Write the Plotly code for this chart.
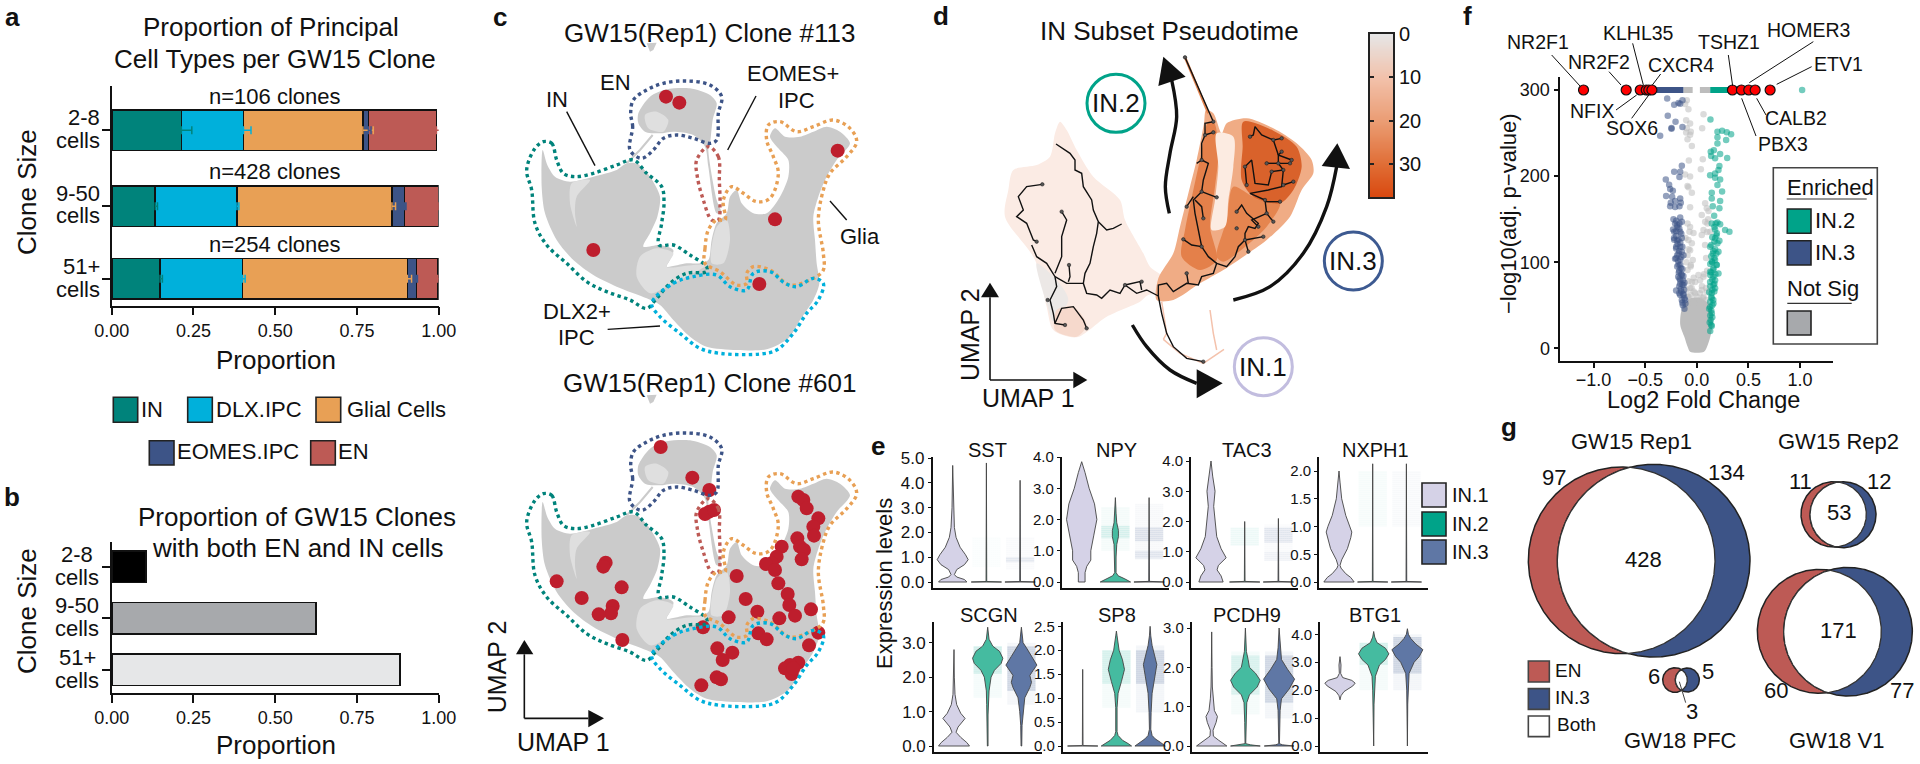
import numpy as np
import plotly.graph_objects as go

W, H = 1920, 764
FONT = "Liberation Sans"
INK = "#111111"

# ---------------- panel a / b data
clone_sizes = ["2-8", "9-50", "51+"]
row_pos_a = [0, 1.025, 2]
cell_types = ["IN", "DLX.IPC", "Glial Cells", "EOMES.IPC", "EN"]
type_colors = ["#00837B", "#00B0DB", "#E8A055", "#3D5487", "#BD5A55"]
prop_IN = [0.213, 0.133, 0.148]
prop_DLX = [0.190, 0.250, 0.252]
prop_GLIA = [0.365, 0.474, 0.504]
prop_EOMES = [0.017, 0.039, 0.028]
prop_EN = [0.208, 0.103, 0.065]
err_IN = [0.032, 0.007, 0.007]
err_DLX = [0.023, 0.006, 0.008]
err_GLIA = [0.032, 0.011, 0.013]
err_EOMES = [0.008, 0.004, 0.003]
err_EN = [0.029, 0.007, 0.007]
clone_counts = ["n=106 clones", "n=428 clones", "n=254 clones"]
both_prop = [0.105, 0.624, 0.882]
both_colors = ["#000000", "#A7A9AC", "#E6E7E8"]
prop_ticks = [0, 0.25, 0.5, 0.75, 1.0]
prop_ticktext = ["0.00", "0.25", "0.50", "0.75", "1.00"]

# ---------------- panel c data (UMAP coordinates)
blob_main = [(248,450),(262,495),(285,530),(330,545),(400,530),(470,510),(500,490),(530,490),(570,530),(600,590),(592,650),(570,700),(550,740),(600,735),(640,750),(630,780),(620,800),(680,790),(720,790),(745,780),(755,720),(770,670),(800,640),(810,590),(830,570),(845,610),(880,640),(920,640),(960,590),(985,530),(985,480),(955,445),(930,410),(945,385),(975,410),(1020,410),(1060,395),(1100,380),(1140,395),(1170,430),(1130,480),(1100,530),(1075,590),(1060,650),(1065,720),(1070,790),(1078,850),(1060,900),(1020,960),(985,1015),(920,1048),(830,1050),(740,1040),(690,1010),(640,960),(600,915),(560,895),(470,860),(400,825),(340,780),(290,720),(255,640),(245,560)]
blob_en = [(535,340),(570,290),(620,268),(690,265),(750,285),(770,310),(758,360),(750,430),(745,445),(770,600),(785,640),(770,640),(745,500),(735,440),(700,405),(640,395),(600,400),(555,395),(535,370)]
blob_top = [(560,130),(590,128),(580,150),(570,155)]
blob_streak = [(578,405),(540,450),(500,490)]
speckle_a = [(540,770),(590,745),(640,760),(620,800),(700,795),(740,795),(680,830),(620,860),(570,880),(530,830)]
speckle_b = [(555,345),(590,335),(625,360),(610,395),(565,385)]
speckle_c = [(770,680),(800,660),(810,720),(790,790),(755,790)]
speckle_d = [(335,550),(390,540),(350,590),(345,640),(350,680),(330,610)]
outline_IN = [(250,425),(275,430),(290,480),(310,520),(345,530),(400,520),(470,495),(520,480),(560,520),(605,560),(612,610),(605,670),(597,735),(640,735),(690,765),(740,800),(740,815),(680,820),(630,850),(590,895),(560,925),(510,900),(440,875),(380,845),(320,790),(260,735),(225,670),(215,570),(200,510),(225,445),(250,425)]
outline_EN = [(510,450),(518,380),(512,340),(520,300),(560,270),(610,250),(680,243),(750,255),(785,290),(775,340),(770,420),(750,430),(700,415),(650,405),(610,415),(580,450),(545,475),(510,450)]
outline_EOMES = [(745,440),(775,470),(778,540),(780,620),(775,660),(755,660),(730,600),(712,530),(710,480),(745,440)]
outline_GLIA = [(735,790),(735,745),(745,690),(770,660),(795,660),(790,600),(815,560),(850,580),(890,605),(930,595),(955,520),(940,470),(920,420),(925,375),(960,365),(1010,395),(1060,380),(1120,360),(1170,385),(1190,425),(1160,470),(1110,520),(1090,570),(1075,660),(1090,760),(1090,810),(1060,835),(990,855),(930,810),(880,800),(860,820),(860,850),(830,855),(780,815),(735,790)]
outline_DLX = [(575,910),(640,850),(700,830),(770,825),(810,860),(860,870),(880,820),(930,815),(975,850),(1010,860),(1060,835),(1090,850),(1075,900),(1040,940),(1000,1000),(950,1050),(900,1062),(780,1060),(720,1045),(660,1000),(600,950),(575,910)]
clone_113 = [(618,290),(658,308),(400,750),(945,658),(898,852),(1133,452)]
clone_601 = [(602,285),(697,377),(748,414),(748,479),(735,486),(762,474),(1015,434),(1030,444),(1040,469),(1075,499),(1060,524),(1062,551),(1012,559),(1020,584),(1032,594),(1025,622),(965,584),(950,614),(935,634),(918,636),(945,654),(955,694),(983,726),(988,759),(1005,791),(1053,772),(958,799),(830,672),(857,741),(892,779),(806,796),(437,632),(430,644),(290,688),(485,706),(365,738),(458,762),(453,784),(416,787),(487,864),(729,826),(895,844),(920,862),(1075,842),(1047,880),(772,889),(817,902),(788,924),(770,976),(783,982),(724,1000),(1015,932),(990,939),(975,949),(995,966),(1000,949)]

# ---------------- panel d data
fan = [(540,365),(560,390),(590,450),(640,530),(720,600),(735,660),(790,760),(810,800),(850,830),(880,880),(805,885),(780,905),(680,950),(590,1012),(520,990),(500,920),(465,780),(375,650),(385,570),(400,510),(470,495),(510,470),(525,400)]
fan_grey = [(470,790),(530,840),(565,900),(520,965),(503,920)]
fan_pink = [(530,930),(580,920),(620,975),(590,1010),(525,990)]
right_body = [(835,835),(880,760),(900,680),(930,560),(950,480),(972,370),(978,330),(1000,340),(1025,400),(1040,370),(1100,355),(1180,385),(1250,430),(1295,480),(1300,520),(1265,570),(1230,650),(1160,720),(1090,770),(1030,810),(960,850),(880,900),(830,900)]
right_left = [(915,690),(940,570),(962,470),(985,365),(1003,370),(1015,460),(1005,560),(990,680),(1010,780),(960,810),(905,770)]
right_low = [(1040,660),(1060,560),(1120,590),(1200,610),(1160,680),(1090,745),(1030,785),(1010,770)]
right_dark = [(1090,365),(1180,392),(1250,440),(1265,500),(1240,570),(1200,610),(1120,590),(1085,540),(1088,440)]
right_gap = [(1010,400),(1060,410),(1060,500),(1045,600),(1035,680),(995,690),(1005,600),(1015,500)]
stream_a = [(845,905),(860,1000),(850,1018)]
stream_b = [(850,1018),(900,1060),(970,1090),(1032,1048)]
stream_c = [(990,930),(1000,1000),(1010,1050)]
stream_d = [(915,172),(985,340)]
traj_paths = [
 [(528,432),(570,460),(585,480),(585,510),(605,520),(610,560),(635,600),(640,630),(655,665),(650,700),(640,740),(630,790),(615,820),(610,850),(620,880),(650,885),(665,895),(690,870),(720,880),(735,855),(770,880),(800,870),(835,888)],
 [(655,665),(680,690),(700,685),(725,672)],
 [(835,888),(835,855),(860,850),(880,875),(920,850),(955,855),(965,830),(1000,820),(1010,790),(1040,800),(1065,770),(1075,740),(1095,720),(1095,700),(1105,680),(1125,685),(1135,670),(1100,640),(1085,615),(1070,635)],
 [(1095,720),(1150,710)], [(1095,720),(1105,755)],
 [(1135,680),(1115,660),(1160,640),(1155,600),(1110,580),(1165,570),(1205,560),(1210,510),(1195,490),(1230,490)],
 [(1160,640),(1180,665)], [(1155,605),(1200,605)], [(1210,555),(1240,545)],
 [(1210,510),(1175,515),(1165,555),(1125,550),(1115,480),(1095,500),(1100,555)],
 [(1195,490),(1160,490)], [(1195,490),(1195,465),(1235,480)], [(1195,465),(1205,455)],
 [(1195,465),(1180,420),(1205,415)], [(1180,420),(1145,405),(1125,380),(1120,405),(1110,410)],
 [(1010,790),(985,770),(965,740),(955,690),(945,640),(940,600),(965,575),(970,540),(985,490),(965,480),(965,430),(975,405),(975,370),(1000,365),(985,330),(915,172)],
 [(965,740),(935,735),(910,718)], [(965,575),(1010,592)], [(940,590),(920,620)], [(945,600),(965,620),(970,655)], [(975,405),(1000,397)], [(965,480),(950,490)],
 [(487,553),(440,560),(415,590),(430,630),(410,650),(440,670),(460,720),(470,725)],
 [(455,735),(470,770),(500,790),(525,830),(530,860),(510,900),(520,940),(525,970),(555,975)],
 [(525,830),(560,850),(610,850)], [(545,635),(560,660),(545,710),(545,770),(525,820)],
 [(567,795),(570,830),(565,845)], [(525,970),(545,925),(580,920),(610,960),(620,985)],
 [(835,888),(845,940),(860,1000),(880,1040),(920,1075),(970,1085)],
 [(920,820),(925,850)], [(735,855),(780,845),(785,870)],
]
traj_nodes = [(915,172),(1000,365),(1000,397),(975,405),(965,480),(965,575),(1010,592),(920,620),(970,655),(910,718),(965,740),(1205,415),(1110,410),(1180,420),(1205,455),(1235,480),(1230,490),(1195,490),(1160,490),(1210,510),(1175,515),(1095,500),(1100,555),(1210,555),(1240,545),(1155,600),(1200,605),(1160,640),(1180,665),(1135,680),(1070,635),(1070,685),(1095,720),(1150,710),(1105,755),(487,553),(545,635),(470,725),(567,795),(503,900),(555,975),(620,985),(920,820),(735,855),(785,845),(970,1085)]
arrow_in2 = [(868,640),(856,560),(870,460),(890,350),(875,240)]
arrow_in3 = [(1060,900),(1170,860),(1270,760),(1340,620),(1370,500)]
arrow_in1 = [(757,975),(800,1040),(870,1110),(950,1150)]
head_in2 = [(850,170),(835,258),(917,230)]
head_in3 = [(1372,430),(1325,498),(1410,507)]
head_in1 = [(1028,1150),(950,1108),(950,1195)]
subset_names = ["IN.1", "IN.2", "IN.3"]
subset_colors = ["#C2BDDF", "#00A389", "#3D5A91"]
subset_fill = ["#D5D2E7", "#45BBA0", "#5F77A5"]
subset_centres = [(1150,1100), (708,310), (1420,783)]
pseudotime_levels = list(range(0, 39))
pseudotime_ticks = [0, 10, 20, 30]

# ---------------- panel e data: profile of each violin as (expression, half width)
genes_top = ["SST", "NPY", "TAC3", "NXPH1"]
genes_bottom = ["SCGN", "SP8", "PCDH9", "BTG1"]
SST_1 = [(0,.42),(.1,.35),(.2,.12),(.3,.05),(.5,.12),(.7,.35),(.9,.46),(1.1,.38),(1.4,.22),(1.8,.1),(2.2,.05),(3,.02),(4.7,0)]
SST_2 = [(0,.45),(.02,.01),(4.8,0)]
SST_3 = [(0,.45),(.02,.01),(4.1,0)]
NPY_1 = [(0,.1),(.3,.1),(.5,.15),(.7,.27),(1,.27),(1.5,.36),(2,.45),(2.5,.38),(3,.22),(3.5,.1),(3.85,0)]
NPY_2 = [(0,.45),(.1,.28),(.2,.08),(.3,.02),(.8,.02),(1.2,.04),(1.45,.09),(1.65,.09),(1.9,.04),(2.2,.02),(2.7,0)]
NPY_3 = [(0,.45),(.02,.01),(2.7,0)]
TAC3_1 = [(0,.36),(.2,.3),(.4,.18),(.55,.22),(.8,.45),(1.1,.3),(1.5,.17),(2,.12),(2.5,.08),(3,.12),(3.5,.05),(4,0)]
TAC3_2 = [(0,.45),(.02,.01),(2,0)]
TAC3_3 = [(0,.45),(.02,.01),(2.1,0)]
NXPH1_1 = [(0,.45),(.08,.35),(.15,.2),(.25,.06),(.3,.03),(.4,.08),(.6,.25),(.8,.35),(.9,.38),(1,.33),(1.2,.2),(1.5,.08),(1.8,.03),(2,0)]
NXPH1_2 = [(0,.45),(.01,.01),(2.13,0)]
NXPH1_3 = [(0,.45),(.01,.01),(2.13,0)]
SCGN_1 = [(0,.46),(.1,.38),(.25,.2),(.4,.06),(.55,.12),(.8,.33),(.95,.2),(1.2,.08),(1.5,.03),(2,.01),(2.8,0)]
SCGN_2 = [(0,.01),(.9,.01),(1.2,.03),(1.6,.04),(2,.1),(2.2,.2),(2.4,.4),(2.55,.45),(2.75,.35),(2.9,.15),(3.1,.04),(3.45,0)]
SCGN_3 = [(0,.01),(.6,.02),(1,.05),(1.4,.1),(1.7,.25),(1.85,.3),(2.05,.25),(2.2,.35),(2.35,.46),(2.6,.3),(2.85,.15),(3,.05),(3.45,0)]
SP8_1 = [(0,.45),(.01,.01),(1.6,0)]
SP8_2 = [(0,.45),(.05,.35),(.12,.18),(.22,.05),(.3,.02),(.8,.02),(1.1,.05),(1.35,.15),(1.6,.24),(1.8,.18),(2,.08),(2.3,.02),(2.4,0)]
SP8_3 = [(0,.45),(.08,.3),(.15,.15),(.22,.06),(.35,.02),(.7,.03),(1.1,.06),(1.4,.13),(1.7,.2),(1.9,.13),(2.1,.06),(2.3,.02),(2.5,0)]
PCDH9_1 = [(0,.45),(.06,.35),(.15,.2),(.25,.05),(.4,.04),(.6,.13),(.75,.17),(.9,.08),(1.2,.04),(1.5,.02),(2,.01),(2.9,0)]
PCDH9_2 = [(0,.44),(.03,.15),(.06,.01),(.6,.02),(1.1,.04),(1.3,.12),(1.5,.35),(1.67,.44),(1.85,.3),(2,.12),(2.2,.08),(2.4,.03),(3,0)]
PCDH9_3 = [(0,.44),(.03,.1),(.06,.01),(.6,.02),(.9,.03),(1.2,.07),(1.45,.3),(1.7,.46),(1.95,.25),(2.2,.07),(2.5,.03),(3,0)]
BTG1_1 = [(1.65,0),(1.8,.03),(1.95,.12),(2.15,.38),(2.25,.45),(2.35,.35),(2.45,.08),(2.6,.02),(2.9,.03),(3.2,0)]
BTG1_2 = [(0,0),(1.5,.01),(2,.03),(2.5,.05),(2.9,.17),(3.1,.35),(3.3,.45),(3.5,.35),(3.7,.1),(3.9,.03),(4.1,0)]
BTG1_3 = [(0,0),(1.5,.01),(2,.02),(2.6,.05),(3,.2),(3.2,.35),(3.45,.46),(3.65,.25),(3.85,.1),(4,.03),(4.2,0)]
# faint cloud of single cells behind the violins: (subset, low, high, strength)
SST_cloud = [(3,.8,1.0,.4),(3,.5,1.8,.1),(2,.6,1.8,.06)]
NPY_cloud = [(2,1.4,1.8,.45),(2,1.0,2.4,.15),(3,1.3,1.75,.55),(3,.75,1.0,.45),(3,.7,2.5,.14)]
TAC3_cloud = [(2,1.2,1.8,.25),(3,1.3,1.8,.45),(3,.7,1.0,.2),(3,.7,1.9,.1)]
NXPH1_cloud = [(2,1.0,2.0,.12),(3,1.0,2.0,.12)]
SCGN_cloud = [(2,2.1,2.9,.55),(2,1.4,2.9,.16),(3,1.6,2.9,.8),(3,1.2,3.0,.22)]
SP8_cloud = [(2,1.3,2.0,.5),(2,.8,2.0,.15),(3,1.3,2.0,.8),(3,.7,2.1,.25)]
PCDH9_cloud = [(2,1.3,2.3,.45),(2,.8,2.4,.15),(3,1.1,2.3,.8),(3,.7,2.4,.25)]
BTG1_cloud = [(2,2.9,3.7,.5),(2,2.0,3.7,.15),(3,2.6,3.9,.8),(3,2.0,4.0,.25)]

# ---------------- panel f data
lfc_blue = [-.287,-.219,-.177,-.139,-.161,-.281,-.206,-.139,-.245,-.355,-.245,-.145,-.219,-.161,-.168,-.3,-.268,-.258,-.232,-.297,-.239,-.161,-.21,-.252,-.155,-.21,-.258,-.168,-.161,-.21,-.168,-.145,-.187,-.219,-.161,-.2,-.219,-.177,-.145,-.187,-.161,-.2,-.145,-.177,-.2,-.161,-.129,-.177,-.155,-.174,-.145,-.168,-.135,-.161,-.129,-.2,-.155,-.123,-.161,-.129,-.145,-.113,-.135,
            -.226,-.2,-.19,-.23,-.2,-.17,-.15,-.22,-.19,-.16,-.2,-.17,-.14,-.19,-.21,-.15,-.18,-.16,-.19,-.14,-.17,-.15,-.18,-.13,-.16,-.14,-.17,-.12,-.15,-.13,-.17,-.12,-.14,-.11,-.12]
p_blue = [290,283,285,288,284,270,263,257,255,247,256,212,205,205,199,196,190,185,183,177,176,174,171,169,169,164,165,165,152,145,145,147,141,135.5,135.5,130.5,126,126,128,121,118,116,112,110,104.5,103,108,97,93,88,85,81,79,75,73.5,67,68.5,68,62,62,56,56,50,
          150,148,143,138,136,139,133,128,125,123,118,113,118,108,104,106,101,97,95,92,90,86,83,84,79,74,72,76,66,63,64,58,53,52,46]
lfc_teal = [.132,.2,.245,.29,.332,.2,.284,.2,.165,.226,.139,.177,.294,.135,.219,.21,.177,.129,.177,.226,.2,.245,.145,.145,.226,.155,.219,.168,.145,.184,.226,.177,.274,.316,.194,.177,.219,.129,.177,.21,.155,.145,.177,.194,.161,.21,.129,.161,.177,.129,.161,.177,.145,.145,.161,.129,.145,.135,.145,
            .2,.17,.19,.15,.17,.2,.14,.16,.19,.14,.17,.15,.13,.19,.16,.14,.18,.13,.15,.17,.13,.15,.17,.12,.14,.16,.13,.15,.12,.14,.13,.15,.125,.14,.13]
p_teal = [265.6,251.6,252.8,250.9,248.5,245,242,238,230,225.7,223.4,220.7,221,228.4,211.8,207,203,201,198,196,189.7,182,180.8,174,171,165,162.6,154,145,145,144,138,137.4,135.5,133.6,127.8,125,118,115,112,110,100.7,102.6,96.8,93,87,89,83,79,77,73.6,69.7,63.9,58,52,48,40.6,33,26,
          146,141,131,129,124,122,120,113,110,107,105,100,98,97,91,88,86,85,80,75,72,68,66,65,60,56,54,50,46,44,38,36,30,27,20]
lfc_grey = [-.097,-.113,-.081,.065,-.103,-.065,-.097,.052,-.058,-.103,-.065,-.09,-.048,-.077,.058,.039,-.113,-.065,-.09,-.081,-.048,-.065,.048,.113,.081,.097,.103,.081,-.065,-.071,-.032,.065,-.081,-.048,.048,.129,-.065,-.09,-.039,-.058,-.09,.016,-.048,-.016,.032,.065,-.065,.048,-.016,.065,-.081,.032,-.032,
            -.09,-.06,-.03,0,.03,.06,.09,-.1,.1,-.05,.05,.09,-.08,-.03,.07,-.1,.1,-.06,.1,-.1,-.08,.09,.08,-.11,.1,-.09,.11]
p_grey = [288,283.8,277.6,271.8,265,261,255.5,255.5,251.6,250.5,248,242.7,235,218,219.5,208,202,199.4,188.5,187,180.8,163.8,154.9,159.5,168.4,162.6,145,147,141,135.5,134,137.4,125.8,122,131.6,135.5,114,108,102.6,96.8,91,85,77,77,79,83,69.7,67.8,63.9,60,60,56,52,
          60,62,66,60,64,58,56,50,50,70,72,70,78,82,86,68,66,95,90,100,115,105,120,128,135,145,150]
cone_lfc = [-.145,-.16,-.12,-.09,-.065,.07,.1,.13,.155,.14,.04,-.06]
cone_p = [45,27,13,2,-4,-4,2,13,30,48,58,58]
capped_blue = [-.39, -.13]
capped_grey_l = [-.13, -.04]
capped_grey_r = [.03, .13]
capped_teal = [.13, .33]
capped_outlier_lfc = [1.02]
capped_p = 300
top_lfc = [-1.097,-.684,-.548,-.49,-.465,-.435,.345,.432,.503,.565,.71]
top_p = [300]*11
lfc_ticks = [-1.0,-0.5,0,0.5,1.0]
lfc_ticktext = ["\u22121.0","\u22120.5","0.0","0.5","1.0"]
p_ticks = [0,100,200,300]
gene_labels = [("NR2F1",295,127),("NR2F2",478,185),("KLHL35",595,100),("CXCR4",723,195),("NFIX",457,332),("SOX6",575,385),("TSHZ1",868,127),("HOMER3",1104,90),("ETV1",1194,192),("CALB2",1068,355),("PBX3",1028,432)]
gene_leaders = [(335,165,420,258),(507,215,543,255),(578,130,610,255),(662,222,637,255),(528,330,590,285),(575,355,630,280),(865,165,878,258),(1120,125,928,248),(1115,200,1010,253),(978,345,950,295),(948,408,905,295)]

# ---------------- panel g data
venn_sets = [
 ("GW15 Rep1", (425,481,280), (521,482,289)),
 ("GW15 Rep2", (1061,343,98), (1089,344,99)),
 ("GW18 V1", (1018,694,186), (1104,695,193)),
 ("GW18 PFC", (585,840,37), (622,840,36)),
]
venn_labels = [("GW15 Rep1",453,125),("GW15 Rep2",1075,125),("97",222,232),("134",738,218),("428",490,478),("11",960,243),("12",1197,243),("53",1077,336),("171",1075,690),("60",887,870),("77",1265,870),("6",522,830),("5",685,813),("3",635,935),("GW18 PFC",600,1022),("GW18 V1",1070,1022)]
venn_red, venn_blue = "#BD5A55", "#3D5487"

# ---------------- helpers
layout = {}
traces = []
shapes = []
annots = []
n_ax = 0

def new_axes(l, t, r, b, xr, yr, xo=None, yo=None):
    global n_ax
    n_ax += 1
    s = "" if n_ax == 1 else str(n_ax)
    base = dict(showgrid=False, zeroline=False, showline=False, showticklabels=False, ticks="", automargin=False)
    xa = dict(base, domain=[l/W, r/W], range=xr, anchor="y"+s)
    ya = dict(base, domain=[1-b/H, 1-t/H], range=yr, anchor="x"+s)
    xa.update(xo or {}); ya.update(yo or {})
    layout["xaxis"+s] = xa
    layout["yaxis"+s] = ya
    return "x"+s, "y"+s

def txt(x, y, s, size=22, anchor="center", angle=0, bold=False, color=INK):
    annots.append(dict(x=x/W, y=1-y/H, xref="paper", yref="paper", text=("<b>%s</b>" % s) if bold else s,
                       showarrow=False, xanchor=anchor, yanchor="middle", textangle=angle, borderpad=0, borderwidth=0,
                       font=dict(family=FONT, size=size, color=color)))

def rect(x0, y0, x1, y1, fill, line="#222222", lw=1.6):
    shapes.append(dict(type="rect", xref="paper", yref="paper", x0=x0/W, x1=x1/W, y0=1-y0/H, y1=1-y1/H,
                       fillcolor=fill, line=dict(color=line, width=lw), layer="above"))

def seg(x0, y0, x1, y1, color=INK, lw=1.2):
    shapes.append(dict(type="line", xref="paper", yref="paper", x0=x0/W, x1=x1/W, y0=1-y0/H, y1=1-y1/H,
                       line=dict(color=color, width=lw), layer="above"))

def tri(p, color=INK):
    d = "M" + " L".join("%.5f,%.5f" % (x/W, 1-y/H) for x, y in p) + " Z"
    shapes.append(dict(type="path", xref="paper", yref="paper", path=d, fillcolor=color, line=dict(color=color, width=0), layer="above"))

def poly(ax, pts, fill, line=None, lw=0, opacity=1, smooth=False):
    xs = [p[0] for p in pts] + [pts[0][0]]
    ys = [p[1] for p in pts] + [pts[0][1]]
    ln = dict(color=line or fill, width=lw)
    if smooth:
        ln.update(shape="spline", smoothing=0.8)
    traces.append(go.Scatter(x=xs, y=ys, xaxis=ax[0], yaxis=ax[1], mode="lines", fill="toself", fillcolor=fill,
                             opacity=opacity, line=ln, hoverinfo="skip", showlegend=False))

def stipple(ax, pts, color, strength):
    xs = [p[0] for p in pts] + [pts[0][0]]
    ys = [p[1] for p in pts] + [pts[0][1]]
    traces.append(go.Scatter(x=xs, y=ys, xaxis=ax[0], yaxis=ax[1], mode="lines", fill="toself", fillcolor="rgba(0,0,0,0)",
                             fillpattern=dict(shape=".", size=2, solidity=0.3, fgcolor=color, fgopacity=strength, bgcolor="rgba(0,0,0,0)"),
                             line=dict(width=0, color="rgba(0,0,0,0)"), hoverinfo="skip", showlegend=False))

def path(ax, pts, color=INK, lw=1.5, dash=None, shape=None):
    ln = dict(color=color, width=lw, dash=dash, shape=shape or "linear")
    traces.append(go.Scatter(x=[p[0] for p in pts], y=[p[1] for p in pts], xaxis=ax[0], yaxis=ax[1], mode="lines",
                             line=ln, hoverinfo="skip", showlegend=False))

def dots(ax, pts, color, size, opacity=1, line=None, lw=0):
    traces.append(go.Scatter(x=[p[0] for p in pts], y=[p[1] for p in pts], xaxis=ax[0], yaxis=ax[1], mode="markers",
                             marker=dict(color=color, size=size, opacity=opacity, line=dict(color=line or color, width=lw)),
                             hoverinfo="skip", showlegend=False))

tickfont = dict(family=FONT, size=18, color=INK)
spine = dict(showline=True, linecolor=INK, linewidth=1.6)

# ---------------- panel a
ax_opts = dict(spine, ticks="outside", ticklen=8, tickwidth=1.6, tickcolor=INK)
axa = new_axes(111.7, 86, 438.7, 305.5, [0, 1], [2.361, -0.597],
               dict(ax_opts, tickvals=prop_ticks, ticktext=prop_ticktext, showticklabels=True, tickfont=tickfont),
               dict(ax_opts, tickvals=row_pos_a, ticktext=clone_sizes))
series = [prop_IN, prop_DLX, prop_GLIA, prop_EOMES, prop_EN]
errors = [err_IN, err_DLX, err_GLIA, err_EOMES, err_EN]
for name, vals, col in zip(cell_types, series, type_colors):
    traces.append(go.Bar(x=vals, y=row_pos_a, orientation="h", xaxis=axa[0], yaxis=axa[1], name=name, width=0.548,
                         marker=dict(color=col, line=dict(color=INK, width=1.6)), showlegend=False, cliponaxis=False))
cum = np.cumsum(np.array(series), axis=0)
for c, e, col in zip(cum, errors, type_colors):
    traces.append(go.Scatter(x=c, y=row_pos_a, xaxis=axa[0], yaxis=axa[1], mode="markers", marker=dict(size=1, color=col, opacity=0),
                             error_x=dict(type="data", symmetric=False, array=e, arrayminus=[0]*3, color=col, width=4, thickness=1.5),
                             showlegend=False, cliponaxis=False, hoverinfo="skip"))
txt(271, 27, "Proportion of Principal", 26)
txt(275, 59, "Cell Types per GW15 Clone", 26)
for s, y in zip(clone_counts, [96, 172, 244]):
    txt(275, y, s, 22)
for s, y in zip(clone_sizes, [118, 193.3, 266.7]):
    txt(99.5, y, s, 22, "right")
for y in [141, 216, 289]:
    txt(99.5, y, "cells", 22, "right")
txt(27, 192, "Clone Size", 26, angle=-90)
txt(276, 360, "Proportion", 26)
leg = [(113.3, 137.7, 141), (187.7, 212.3, 215.7), (316, 340.7, 347.3)]
for (x0, x1, tx), lab, col in zip(leg, cell_types[:3], type_colors[:3]):
    rect(x0, 397.3, x1, 422.3, col)
    txt(tx, 409, lab, 22, "left")
rect(149.3, 440.7, 174, 465, type_colors[3]); txt(176.7, 451.5, cell_types[3], 22, "left")
rect(310.7, 440.7, 335.3, 465, type_colors[4]); txt(337.7, 451.5, cell_types[4], 22, "left")

# ---------------- panel b
axb = new_axes(111.7, 542.3, 438.7, 692.7, [0, 1], [2.445, -0.47],
               dict(ax_opts, tickvals=prop_ticks, ticktext=prop_ticktext, showticklabels=True, tickfont=tickfont),
               dict(ax_opts, tickvals=[0, 1, 2], ticktext=clone_sizes))
traces.append(go.Bar(x=both_prop, y=[0, 1, 2], orientation="h", xaxis=axb[0], yaxis=axb[1], width=0.611,
                     marker=dict(color=both_colors, line=dict(color=INK, width=1.6)), showlegend=False))
txt(297, 517, "Proportion of GW15 Clones", 26)
txt(297, 548, "with both EN and IN cells", 26)
for s, y in zip(clone_sizes, [554, 605.7, 657.3]):
    txt(77, y, s, 22)
for y in [577, 628.3, 680]:
    txt(77, y, "cells", 22)
txt(27, 611, "Clone Size", 26, angle=-90)
txt(276, 745, "Proportion", 26)

# ---------------- panel c
def umap_panel(ax, clone):
    poly(ax, blob_main, "#cbcbcb", smooth=True); poly(ax, blob_en, "#cbcbcb", smooth=True); poly(ax, blob_top, "#cbcbcb")
    path(ax, blob_streak, "#cbcbcb", 2)
    for sp in (speckle_a, speckle_b, speckle_c, speckle_d):
        poly(ax, sp, "#dfdfdf", smooth=True)
    dots(ax, clone, "#BE1E2D", 14)
    for o, c in ((outline_IN, "#00837B"), (outline_EN, "#3D5487"), (outline_EOMES, "#BD5A55"),
                 (outline_GLIA, "#E8A055"), (outline_DLX, "#00B0DB")):
        path(ax, o, c, 3.4, dash="dot", shape="spline")

axc1 = new_axes(460, 0, 860, 380, [0, 1200], [1140, 0])
umap_panel(axc1, clone_113)
axc2 = new_axes(460, 352, 860, 732, [0, 1200], [1140, 0])
umap_panel(axc2, clone_601)
txt(709, 33, "GW15(Rep1) Clone #113", 26)
txt(709, 383, "GW15(Rep1) Clone #601", 26)
C1 = lambda x, y: (460+x/3, y/3)
C2 = lambda x, y: (460+x/3, 370+y/3)
for s, x, y in [("EN",465,248),("IN",292,297),("EOMES+",998,222),("IPC",1008,302),("DLX2+",350,935),("IPC",350,1013)]:
    px = C1(x, y); txt(px[0], px[1], s, 22)
txt(840, 237, "Glia", 22, "left")
for a, b, c, d in [(320,335,405,497),(888,288,803,450),(1110,603,1160,660),(443,988,600,978)]:
    p0, p1 = C1(a, b), C1(c, d); seg(p0[0], p0[1], p1[0], p1[1], lw=1.4)
p0, p1, p2 = C2(193,1045), C2(193,853), C2(385,1045)
seg(*p0, *p1, lw=1.6); seg(*p0, *p2, lw=1.6)
tri([C2(193,810), C2(168,853), C2(220,853)])
tri([C2(432,1045), C2(385,1020), C2(385,1072)])
txt(*C2(110,890), "UMAP 2", 25, angle=-90)
txt(*C2(310,1115), "UMAP 1", 25)
txt(12, 17, "a", 26, bold=True); txt(12, 497, "b", 26, bold=True); txt(500, 17, "c", 26, bold=True)
txt(941, 16, "d", 26, bold=True); txt(878, 446, "e", 26, bold=True); txt(1467, 16, "f", 26, bold=True); txt(1509, 427, "g", 26, bold=True)

# ---------------- panel d
axd = new_axes(880, 0, 1400, 410, [0, 1560], [1230, 0])
poly(axd, fan, "#fbebe4", smooth=True)
poly(axd, fan_grey, "#ece8e6", smooth=True)
poly(axd, fan_pink, "#f6d9cc", smooth=True)
poly(axd, right_body, "#f0ac85", smooth=True)
poly(axd, right_left, "#e4804a", smooth=True)
poly(axd, right_low, "#e5854f", smooth=True)
poly(axd, right_dark, "#d9622b", smooth=True)
poly(axd, right_gap, "#fcebe1", smooth=True)
for st in (stream_a, stream_b, stream_c):
    path(axd, st, "#f4c2ac", 1.5)
path(axd, stream_d, "#e5854f", 2.5)
for t in traj_paths:
    path(axd, t, "#111111", 1.4)
dots(axd, traj_nodes, "#555555", 3.5, line="#111111", lw=0.5)
for cur, head in ((arrow_in2, head_in2), (arrow_in3, head_in3), (arrow_in1, head_in1)):
    path(axd, cur, INK, 3.4, shape="spline")
    poly(axd, head, INK)
for col, ctr in zip(subset_colors, subset_centres):
    dots(axd, [ctr], "white", 58, line=col, lw=3)
D = lambda x, y: (880+x/3, y/3)
for name, ctr in zip(subset_names, subset_centres):
    txt(*D(*ctr), name, 26)
txt(1169, 31, "IN Subset Pseudotime", 26)
seg(*D(330,1140), *D(330,892), lw=1.6); seg(*D(330,1140), *D(580,1140), lw=1.6)
tri([D(330,848), D(303,892), D(357,892)])
tri([D(622,1140), D(580,1115), D(580,1165)])
txt(*D(270,1005), "UMAP 2", 25, angle=-90)
txt(*D(445,1195), "UMAP 1", 25)

# colour key
axk = new_axes(1370, 34, 1393, 197, [-0.5, 0.5], [37.6, 0],
               dict(showline=True, linecolor="#222222", linewidth=1.8, mirror=True),
               dict(showline=True, linecolor="#222222", linewidth=1.8, mirror="ticks", side="right", ticks="inside", ticklen=4,
                    tickwidth=1.5, tickcolor="#222222", tickvals=pseudotime_ticks, showticklabels=True,
                    tickfont=dict(family=FONT, size=20, color=INK)))
traces.append(go.Heatmap(x=[0], y=pseudotime_levels, z=[[v] for v in pseudotime_levels], xaxis=axk[0], yaxis=axk[1], showscale=False,
                         zmin=0, zmax=37.6, zsmooth="best",
                         colorscale=[[0, "#e6e6e6"], [0.27, "#f2c1aa"], [0.55, "#ea9a70"], [0.8, "#e06d35"], [1, "#d9480f"]], hoverinfo="skip"))

# ---------------- panel e
def violin_panel(name, prof, cloud, ax_l, ax_r, zero, top_px, bot_px, t_val, t_px, ticks, fsize, tx, ty):
    unit = 33.7
    upp = (zero - t_px) / t_val
    xr = [1 - 20/unit, 1 - 20/unit + (ax_r-ax_l)/unit]
    yr = [(zero-bot_px)/upp, (zero-top_px)/upp]
    ax = new_axes(ax_l, top_px, ax_r, bot_px, xr, yr,
                  dict(spine),
                  dict(spine, ticks="outside", ticklen=3, tickwidth=1.2, tickcolor=INK, tickvals=ticks,
                       ticktext=["%.1f" % v for v in ticks], showticklabels=True,
                       tickfont=dict(family=FONT, size=fsize, color=INK)))
    for cat, lo, hi, al in cloud:
        stipple(ax, [(cat-.42, lo), (cat+.42, lo), (cat+.42, hi), (cat-.42, hi)], subset_colors[cat-1], al)
    for i, pr in enumerate(prof):
        c = i + 1
        pts = [(c-w, y) for y, w in pr] + [(c+w, y) for y, w in reversed(pr)]
        poly(ax, pts, subset_fill[i], line="#444444", lw=0.9)
    txt(tx, ty, name, 20)

violin_panel("SST", (SST_1,SST_2,SST_3), SST_cloud, 932.7, 1040, 582, 457, 588, 5, 458, [0,1,2,3,4,5], 17, 988, 450)
violin_panel("NPY", (NPY_1,NPY_2,NPY_3), NPY_cloud, 1061.7, 1169, 582, 457, 588, 4, 457, [0,1,2,3,4], 15, 1116, 450)
violin_panel("TAC3", (TAC3_1,TAC3_2,TAC3_3), TAC3_cloud, 1191, 1298, 582, 457, 588, 4, 461, [0,1,2,3,4], 15, 1247, 450)
violin_panel("NXPH1", (NXPH1_1,NXPH1_2,NXPH1_3), NXPH1_cloud, 1319, 1428, 582, 457, 588, 2, 471, [0,.5,1,1.5,2], 15, 1375, 450)
violin_panel("SCGN", (SCGN_1,SCGN_2,SCGN_3), SCGN_cloud, 934, 1041.7, 746, 621.7, 752.3, 3, 642.7, [0,1,2,3], 17, 989, 615)
violin_panel("SP8", (SP8_1,SP8_2,SP8_3), SP8_cloud, 1062.7, 1170, 746, 621.7, 752.3, 2.5, 626.3, [0,.5,1,1.5,2,2.5], 15, 1117, 615)
violin_panel("PCDH9", (PCDH9_1,PCDH9_2,PCDH9_3), PCDH9_cloud, 1191.7, 1299, 746, 621.7, 752.3, 3, 628, [0,1,2,3], 15, 1247, 615)
violin_panel("BTG1", (BTG1_1,BTG1_2,BTG1_3), BTG1_cloud, 1320, 1428, 746, 621.7, 752.3, 4, 634.3, [0,1,2,3,4], 15, 1375, 615)
txt(884, 584, "Expression levels", 22, angle=-90)
for i, (nm, y0) in enumerate(zip(subset_names, [483, 512, 540])):
    rect(1422, y0, 1446, y0+24, subset_fill[i] if i != 1 else subset_colors[1])
    txt(1452, y0+12, nm, 20, "left")

# ---------------- panel f
greys = "#BDBDBD"
axf = new_axes(1560.3, 77.3, 1833.3, 361, [-1.322, 1.322], [-14.75, 314.75],
               dict(spine, ticks="outside", ticklen=5, tickwidth=1.6, tickcolor=INK, tickvals=lfc_ticks, ticktext=lfc_ticktext,
                    showticklabels=True, tickfont=tickfont, ticklabelstandoff=-3),
               dict(spine, ticks="outside", ticklen=5, tickwidth=1.6, tickcolor=INK, tickvals=p_ticks,
                    showticklabels=True, tickfont=tickfont))
poly(axf, list(zip(cone_lfc, cone_p)), greys, smooth=True)
dots(axf, list(zip(lfc_grey, p_grey)), greys, 6.5, 0.55)
dots(axf, list(zip(lfc_blue, p_blue)), "#3D5487", 6.5, 0.55)
dots(axf, list(zip(lfc_teal, p_teal)), "#00A388", 6.5, 0.55)
path(axf, [(capped_grey_l[0], capped_p), (capped_grey_l[1], capped_p)], greys, 6)
path(axf, [(capped_grey_r[0], capped_p), (capped_grey_r[1], capped_p)], greys, 6)
path(axf, [(capped_blue[0], capped_p), (capped_blue[1], capped_p)], "#3D5487", 6)
path(axf, [(capped_teal[0], capped_p), (capped_teal[1], capped_p)], "#00A388", 6)
dots(axf, [(v, capped_p) for v in capped_outlier_lfc], "#00A388", 6.5, 0.55)
dots(axf, list(zip(top_lfc, top_p)), "#FF0000", 10, line="#111111", lw=1.2)
F = lambda x, y: (1440+x/3, y/3)
for s, x, y in gene_labels:
    txt(*F(x, y), s, 19.5)
for a, b, c, d in gene_leaders:
    seg(*F(a, b), *F(c, d), lw=1)
txt(1703, 400, "Log2 Fold Change", 23.5)
txt(1508, 214, "\u2212log10(adj. p\u2212value)", 22, angle=-90)
rect(1773.3, 167.7, 1877.3, 344, "rgba(0,0,0,0)", "#444444", 1.6)
txt(1786.7, 187.5, "Enriched", 22, "left")
seg(1786.7, 199, 1866.7, 199, "#333333", 1.2)
rect(1787.3, 209, 1811, 233.3, "#00A389")
rect(1787.3, 240.7, 1811, 265, "#3D5487")
txt(1815, 220, "IN.2", 22, "left"); txt(1815, 252.7, "IN.3", 22, "left")
txt(1786.7, 288.3, "Not Sig", 22, "left")
seg(1787.3, 303.3, 1851.7, 303.3, "#333333", 1.2)
rect(1787.3, 311, 1811, 335, "#A7A9AC")

# ---------------- panel g
axg = new_axes(1480, 400, 1920, 764, [0, 1320], [1092, 0])
theta = np.radians(np.arange(0, 360.5, 0.5))
def circ(c):
    return np.c_[c[0] + c[2]*np.cos(theta), c[1] + c[2]*np.sin(theta)]
for name, a, b in venn_sets:
    ca, cb = circ(a), circ(b)
    poly(axg, [tuple(p) for p in ca], venn_red, line="#222222", lw=1.5)
    poly(axg, [tuple(p) for p in cb], venn_blue, line="#222222", lw=1.5)
    ina = ca[(ca[:, 0]-b[0])**2 + (ca[:, 1]-b[1])**2 < b[2]**2]
    inb = cb[(cb[:, 0]-a[0])**2 + (cb[:, 1]-a[1])**2 < a[2]**2]
    lens = np.vstack([ina, inb])
    m = lens.mean(axis=0)
    lens = lens[np.argsort(np.arctan2(lens[:, 1]-m[1], lens[:, 0]-m[0]))]
    poly(axg, [tuple(p) for p in lens], "white", line="#333333", lw=1.3)
G = lambda x, y: (1480+x/3, 400+y/3)
for s, x, y in venn_labels:
    txt(*G(x, y), s, 22)
seg(*G(598,845), *G(617,908), "#444444", 1)
for (y0, y1, lab, col, tx, ty) in [(783,846,"EN",venn_red,225,810),(866,928,"IN.3",venn_blue,225,892),(948,1010,"Both","white",230,973)]:
    p0, p1 = G(145, y0), G(208, y1)
    rect(p0[0], p0[1], p1[0], p1[1], col, "#444444", 1.6)
    t = G(tx, ty); txt(t[0], t[1], lab, 19, "left")

layout.update(template="none", width=W, height=H, margin=dict(l=0, r=0, t=0, b=0, pad=0, autoexpand=False),
              paper_bgcolor="white", plot_bgcolor="rgba(0,0,0,0)",
              barmode="stack", showlegend=False, shapes=shapes, annotations=annots,
              font=dict(family=FONT, color=INK))
fig = go.Figure(data=traces, layout=layout)
fig.write_html("out.html", config=dict(displayModeBar=False),
               post_script="document.body.style.margin='0';document.body.style.overflow='hidden';")
